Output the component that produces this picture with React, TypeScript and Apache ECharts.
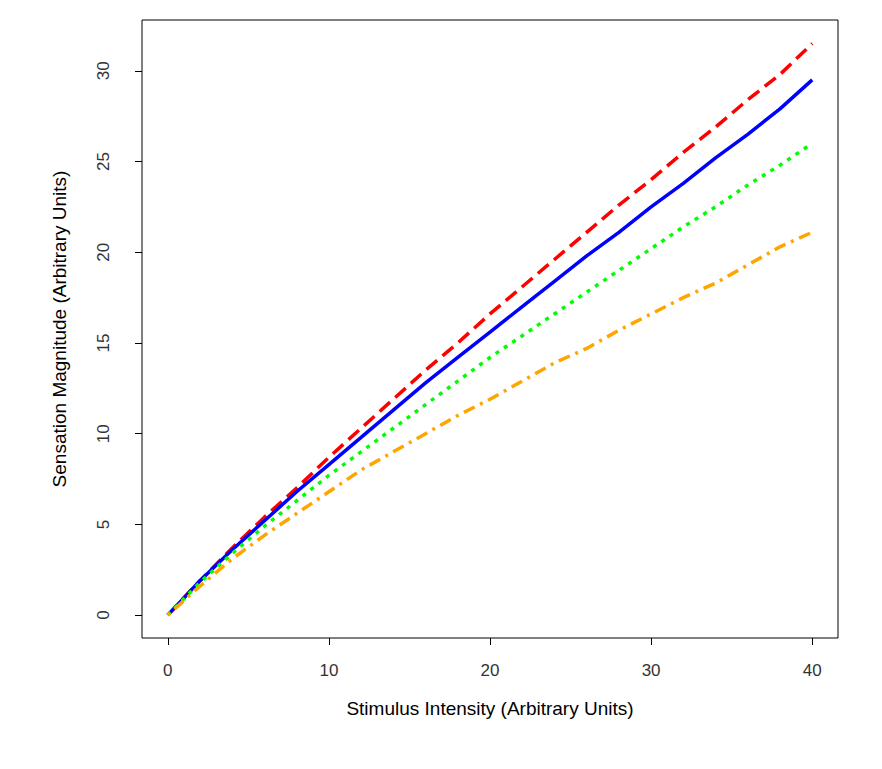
import React, { useEffect, useRef } from 'react';
import * as echarts from 'echarts';

const xValues = [0, 2, 4, 6, 8, 10, 12, 14, 16, 18, 20, 22, 24, 26, 28, 30, 32, 34, 36, 38, 40];
const redValues = [0, 1.9, 3.7, 5.4, 7.0, 8.7, 10.3, 11.9, 13.5, 15.0, 16.6, 18.1, 19.6, 21.1, 22.6, 24.0, 25.5, 26.9, 28.4, 29.8, 31.5];
const blueValues = [0, 1.9, 3.6, 5.2, 6.8, 8.3, 9.8, 11.3, 12.8, 14.2, 15.6, 17.0, 18.4, 19.8, 21.1, 22.5, 23.8, 25.2, 26.5, 27.9, 29.5];
const greenValues = [0, 1.8, 3.4, 4.9, 6.3, 7.7, 9.0, 10.3, 11.6, 12.9, 14.2, 15.4, 16.6, 17.8, 19.0, 20.2, 21.4, 22.5, 23.7, 24.8, 26.0];
const orangeValues = [0, 1.6, 3.1, 4.4, 5.6, 6.8, 8.0, 9.0, 10.0, 11.0, 11.9, 12.9, 13.9, 14.7, 15.7, 16.6, 17.5, 18.3, 19.3, 20.3, 21.1];
const xTicks = [0, 10, 20, 30, 40];
const yTicks = [0, 5, 10, 15, 20, 25, 30];

const App: React.FC = () => {
  const ref = useRef<HTMLDivElement>(null);

  useEffect(() => {
    document.body.style.margin = '0';
    if (!ref.current) return;
    const chart = echarts.init(ref.current, undefined, { renderer: 'svg' });
    const font = { fontFamily: 'Liberation Sans', fontSize: 17, color: '#333' };
    const pair = (ys: number[]) => xValues.map((x, i) => [x, ys[i]]);
    const line = (name: string, ys: number[], color: string, type: any) => ({
      name,
      type: 'line',
      data: pair(ys),
      showSymbol: false,
      lineStyle: { color, width: 3.5, type },
    });
    chart.setOption({
      animation: false,
      backgroundColor: '#fff',
      grid: { left: 142, top: 20, right: 44, bottom: 131, show: true, borderColor: '#000', borderWidth: 1 },
      xAxis: {
        type: 'value', min: -1.6, max: 41.6,
        splitLine: { show: false },
        axisLine: { show: false, onZero: false },
        axisTick: { show: true, length: 7, lineStyle: { color: '#000' }, customValues: xTicks },
        axisLabel: { ...font, margin: 24, customValues: xTicks },
        name: 'Stimulus Intensity (Arbitrary Units)',
        nameLocation: 'middle', nameGap: 61,
        nameTextStyle: { fontFamily: 'Liberation Sans', fontSize: 19, color: '#000' },
      },
      yAxis: {
        type: 'value', min: -1.26, max: 32.8,
        splitLine: { show: false },
        axisLine: { show: false, onZero: false },
        axisTick: { show: true, length: 7, lineStyle: { color: '#000' }, customValues: yTicks },
        axisLabel: { ...font, margin: 30, rotate: 90, customValues: yTicks },
        name: 'Sensation Magnitude (Arbitrary Units)',
        nameLocation: 'middle', nameGap: 73,
        nameTextStyle: { fontFamily: 'Liberation Sans', fontSize: 19, color: '#000' },
      },
      series: [
        line('red', redValues, '#ff0000', [14, 7]),
        line('blue', blueValues, '#0000ff', 'solid'),
        line('green', greenValues, '#00ff00', [4, 6]),
        line('orange', orangeValues, '#ffa500', [3, 6, 12, 6]),
      ],
    });
    return () => chart.dispose();
  }, []);

  return <div ref={ref} style={{ width: 882, height: 769 }} />;
};

export default App;
